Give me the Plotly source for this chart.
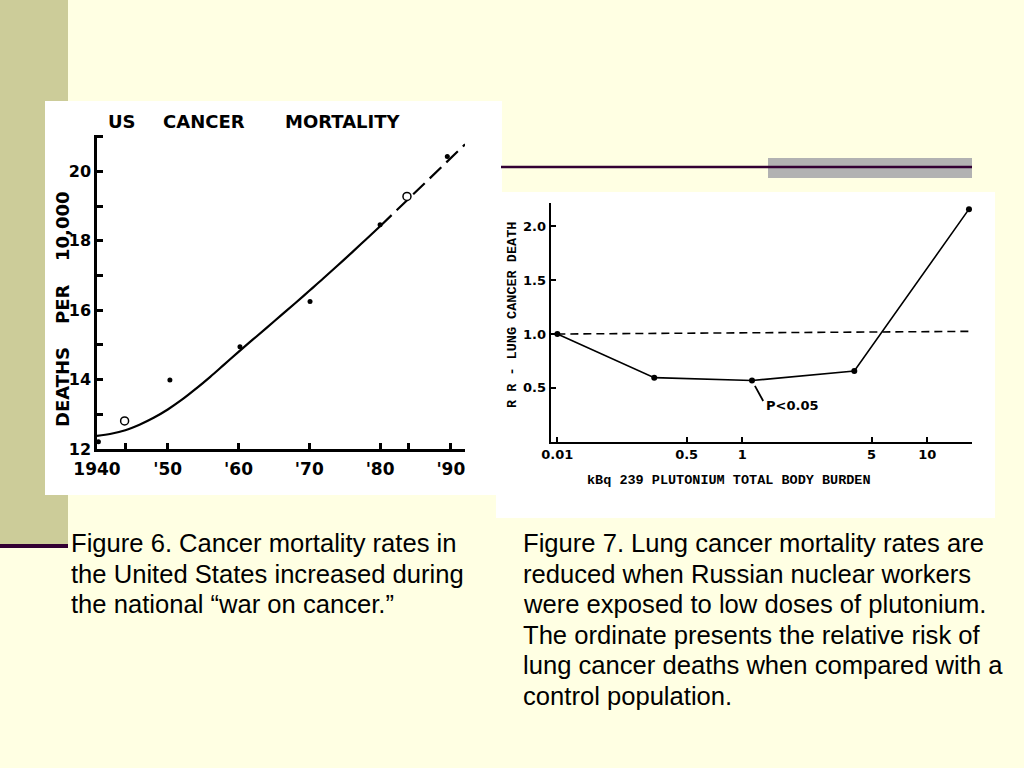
import plotly.graph_objects as go

W, H = 1024, 768


def px(x):
    return x / W


def py(y):
    return 1 - y / H


# ---------------- Figure 6: US cancer mortality ----------------
fit_years = [1940, 1942, 1944, 1946, 1948, 1950, 1952, 1954, 1956, 1958, 1960,
             1962, 1964, 1966, 1968, 1970, 1972, 1974, 1976, 1978, 1980]
fit_values = [12.38, 12.44, 12.54, 12.7, 12.9, 13.14, 13.42, 13.74, 14.08, 14.44, 14.8,
              15.15, 15.5, 15.85, 16.2, 16.56, 16.92, 17.29, 17.66, 18.04, 18.42]
proj_years = [1980, 1984, 1988, 1992]
proj_values = [18.42, 19.2, 19.98, 20.78]
obs_years = [1940.2, 1950.3, 1960.2, 1970.1, 1980.0, 1989.5]
obs_values = [12.21, 13.99, 14.95, 16.25, 18.46, 20.43]
open_years = [1943.9, 1983.8]
open_values = [12.81, 19.28]
x6_tickvals = [1940, 1944, 1950, 1960, 1970, 1980, 1984, 1990]
x6_ticktext = ["1940", "", "'50", "'60", "'70", "'80", "", "'90"]
y6_tickvals = [12, 13, 14, 15, 16, 17, 18, 19, 20, 21]
y6_ticktext = ["12", "", "14", "", "16", "", "18", "", "20", ""]

# ---------------- Figure 7: plutonium & lung cancer ----------------
dose = [0.1, 0.334, 1.128, 4.03, 16.8]
rr = [1.0, 0.595, 0.568, 0.657, 2.16]
ref_dose = [0.1, 17.4]
ref_rr = [1.0, 1.025]
x7_tickvals = [0.1, 0.5, 1, 5, 10]
x7_ticktext = ["0.01", "0.5", "1", "5", "10"]
y7_tickvals = [0.5, 1.0, 1.5, 2.0]
y7_ticktext = ["0.5", "1.0", "1.5", "2.0"]
p_note_index = 2

caption6 = [
    "Figure 6. Cancer mortality rates in",
    "the United States increased during",
    "the national \u201cwar on cancer.\u201d",
]
caption7 = [
    "Figure 7. Lung cancer mortality rates are",
    "reduced when Russian nuclear workers",
    "were exposed to low doses of plutonium.",
    "The ordinate presents the relative risk of",
    "lung cancer deaths when compared with a",
    "control population.",
]

BG = "#FFFFE3"
OLIVE = "#CCCC99"
PURPLE = "#330033"
GRAY = "#B2B2B2"

SANSB = dict(family="DejaVu Sans", color="black", weight="bold")
MONOB = dict(family="Liberation Mono", color="black", weight="bold")

fig = go.Figure()

# Figure 6 traces
fig.add_trace(go.Scatter(x=fit_years, y=fit_values, mode="lines",
                         line=dict(color="black", width=2.2, shape="spline"),
                         xaxis="x", yaxis="y", showlegend=False, cliponaxis=False))
fig.add_trace(go.Scatter(x=proj_years, y=proj_values, mode="lines",
                         line=dict(color="black", width=2.2, dash="16px,7px"),
                         xaxis="x", yaxis="y", showlegend=False, cliponaxis=False))
fig.add_trace(go.Scatter(x=obs_years, y=obs_values, mode="markers",
                         marker=dict(color="black", size=5),
                         xaxis="x", yaxis="y", showlegend=False, cliponaxis=False))
fig.add_trace(go.Scatter(x=open_years, y=open_values, mode="markers",
                         marker=dict(color="white", size=8,
                                     line=dict(color="black", width=1.5)),
                         xaxis="x", yaxis="y", showlegend=False, cliponaxis=False))

# Figure 7 traces
fig.add_trace(go.Scatter(x=ref_dose, y=ref_rr, mode="lines",
                         line=dict(color="black", width=1.6, dash="8px,5px"),
                         xaxis="x2", yaxis="y2", showlegend=False, cliponaxis=False))
fig.add_trace(go.Scatter(x=dose, y=rr, mode="lines+markers",
                         line=dict(color="black", width=1.6),
                         marker=dict(color="black", size=6),
                         xaxis="x2", yaxis="y2", showlegend=False, cliponaxis=False))

axis_common = dict(showline=True, linecolor="black", showgrid=False, zeroline=False,
                   ticks="inside", tickcolor="black")

shapes = [
    # olive side band
    dict(type="rect", xref="paper", yref="paper", x0=px(0), x1=px(68), y0=py(546), y1=py(0),
         fillcolor=OLIVE, line=dict(width=0), layer="below"),
    # white panels
    dict(type="rect", xref="paper", yref="paper", x0=px(45), x1=px(502), y0=py(495), y1=py(101),
         fillcolor="white", line=dict(width=0), layer="below"),
    dict(type="rect", xref="paper", yref="paper", x0=px(496), x1=px(995), y0=py(518), y1=py(192),
         fillcolor="white", line=dict(width=0), layer="below"),
    # gray block and purple rule (top right)
    dict(type="rect", xref="paper", yref="paper", x0=px(768), x1=px(972), y0=py(178), y1=py(158),
         fillcolor=GRAY, line=dict(width=0), layer="below"),
    dict(type="line", xref="paper", yref="paper", x0=px(501), x1=px(972), y0=py(167), y1=py(167),
         line=dict(color=PURPLE, width=2.5), layer="below"),
    # purple rule (left)
    dict(type="line", xref="paper", yref="paper", x0=px(0), x1=px(68), y0=py(546), y1=py(546),
         line=dict(color=PURPLE, width=4), layer="below"),
]

annotations = []


def text(s, x, y, font, angle=0, xanchor="center"):
    annotations.append(dict(text=s, xref="paper", yref="paper", x=px(x), y=py(y),
                            xanchor=xanchor, yanchor="middle", showarrow=False,
                            textangle=angle, font=font))


# Figure 6 title and y title
for word, cx in [("US", 122), ("CANCER", 204), ("MORTALITY", 343)]:
    text(word, cx, 122, dict(SANSB, size=18))
for word, cy in [("DEATHS", 387), ("PER", 305), ("10,000", 227)]:
    text(word, 62, cy, dict(SANSB, size=18), angle=-90)

# Figure 7 axis titles
text("R R - LUNG CANCER DEATH", 512, 315, dict(MONOB, size=13.5), angle=-90)
text("kBq 239 PLUTONIUM TOTAL BODY BURDEN", 729, 480, dict(MONOB, size=13.5))

# P<0.05 note
annotations.append(dict(text="", x=0.0524, y=rr[p_note_index], xref="x2", yref="y2",
                        showarrow=True, arrowhead=0, arrowwidth=1.8, arrowcolor="black",
                        ax=12, ay=22, standoff=6))
annotations.append(dict(text="P<0.05", x=0.0524, y=rr[p_note_index], xref="x2", yref="y2",
                        showarrow=False, xanchor="left", yanchor="middle",
                        xshift=12, yshift=-25, font=dict(SANSB, size=13)))

# Captions
for i, line in enumerate(caption6):
    text(line, 69, 543 + i * 30.6, dict(family="Liberation Sans", size=25.6, color="black"),
         xanchor="left")
for i, line in enumerate(caption7):
    text(line, 521, 543 + i * 30.6, dict(family="Liberation Sans", size=25.6, color="black"),
         xanchor="left")

fig.update_layout(
    width=W, height=H, autosize=False,
    margin=dict(l=0, r=0, t=0, b=0, pad=0, autoexpand=False),
    paper_bgcolor=BG, plot_bgcolor="rgba(0,0,0,0)",
    showlegend=False,
    xaxis=dict(axis_common, domain=[px(97), px(465)], range=[1940, 1992], anchor="y",
               linewidth=2.5, ticklen=6, tickwidth=2.5, ticklabelstandoff=3,
               tickvals=x6_tickvals, ticktext=x6_ticktext, tickfont=dict(SANSB, size=17)),
    yaxis=dict(axis_common, domain=[py(449), py(135)], range=[12, 21.05], anchor="x",
               linewidth=2.5, ticklen=6, tickwidth=2.5,
               tickvals=y6_tickvals, ticktext=y6_ticktext, tickfont=dict(SANSB, size=16)),
    xaxis2=dict(axis_common, type="log", domain=[px(550.7), px(971.7)], range=[-1.036, 1.24],
                anchor="y2", linewidth=2, ticklen=5, tickwidth=1.5,
                tickvals=x7_tickvals, ticktext=x7_ticktext, tickfont=dict(SANSB, size=13)),
    yaxis2=dict(axis_common, domain=[py(441.7), py(202.7)], range=[0, 2.22], anchor="x2",
                linewidth=2, ticklen=5, tickwidth=1.5,
                tickvals=y7_tickvals, ticktext=y7_ticktext, tickfont=dict(SANSB, size=13)),
    shapes=shapes,
    annotations=annotations,
)

fig.write_html("out.html", config={"displayModeBar": False},
               post_script="document.body.style.margin='0';")
